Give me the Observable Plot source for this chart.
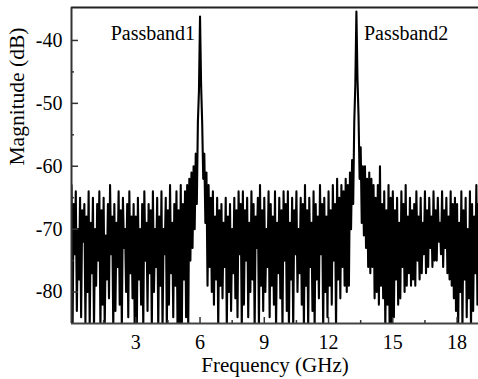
<!DOCTYPE html>
<html>
<head>
<meta charset="utf-8">
<script src="https://cdn.jsdelivr.net/npm/d3@7"></script>
<script src="https://cdn.jsdelivr.net/npm/@observablehq/plot@0.6"></script>
<style>
  html, body { margin: 0; padding: 0; background: #fff; }
  #chart svg { display: block; font-family: "Liberation Serif", "Times New Roman", serif !important; }
  #chart svg text { font-family: "Liberation Serif", "Times New Roman", serif !important; }
</style>
</head>
<body>
<div id="chart"></div>
<script>
const freqStart = 0;
const freqStep = 0.05;
const magnitude = [
  -63,-86,-66,-74,-64,-83,-70,-78,-65,-84,-67,-72,-66,-85,-68,-80,-64,-86,-69,-77,
  -65,-86,-70,-79,-66,-75,-64,-86,-67,-82,-65,-86,-71,-78,-66,-81,-63,-74,-68,-86,
  -66,-83,-69,-76,-64,-82,-67,-86,-65,-73,-70,-80,-66,-84,-64,-77,-68,-81,-66,-86,
  -68,-86,-65,-78,-70,-82,-66,-86,-64,-75,-69,-83,-66,-77,-67,-86,-64,-80,-70,-76,
  -65,-86,-68,-79,-64,-86,-70,-74,-65,-86,-67,-82,-63,-77,-69,-84,-66,-79,-64,-86,
  -67,-86,-63,-86,-66,-78,-64,-84,-63,-86,-62,-75,-61,-73,-60,-70,-58,-66,-53,-48,
  -36.2,-47,-53,-62,-58,-69,-61,-79,-63,-76,-65,-80,-64,-82,-68,-78,-65,-86,-67,-79,
  -66,-81,-69,-76,-65,-86,-68,-80,-66,-83,-70,-77,-65,-81,-67,-84,-64,-74,-66,-86,
  -64,-82,-67,-75,-65,-84,-69,-80,-64,-78,-66,-86,-68,-73,-65,-86,-63,-79,-67,-83,
  -65,-80,-70,-76,-64,-84,-66,-79,-68,-82,-64,-86,-69,-77,-65,-81,-67,-86,-64,-75,
  -66,-83,-64,-86,-69,-78,-65,-86,-67,-74,-64,-80,-70,-77,-65,-82,-66,-86,-63,-79,
  -67,-86,-65,-76,-69,-83,-64,-86,-66,-78,-68,-81,-63,-74,-66,-86,-65,-80,-68,-84,
  -64,-79,-67,-82,-63,-75,-66,-86,-62,-78,-65,-81,-63,-76,-64,-79,-62,-80,-63,-79,
  -61,-70,-59,-66,-53,-47,-35.4,-46,-52,-62,-57,-69,-60,-71,-60,-73,-62,-76,-61,-77,
  -62,-76,-63,-81,-65,-80,-63,-82,-60,-79,-66,-81,-64,-86,-67,-82,-63,-86,-65,-86,
  -64,-84,-67,-78,-65,-82,-69,-81,-64,-76,-66,-80,-63,-79,-68,-77,-65,-79,-67,-78,
  -66,-79,-64,-75,-68,-78,-65,-77,-69,-74,-64,-77,-67,-76,-65,-73,-68,-76,-64,-75,
  -67,-75,-65,-72,-69,-74,-64,-76,-67,-73,-65,-77,-68,-78,-64,-79,-66,-81,-65,-83,
  -66,-86,-69,-80,-64,-86,-67,-78,-65,-84,-70,-81,-64,-86,-66,-83,-68,-77,-63,-82,
  -66
];

// Axis ticks
const xTicks = [3, 6, 9, 12, 15, 18];
const xMinorTicks = [1.5, 4.5, 7.5, 10.5, 13.5, 16.5];
const yTicks = [-80, -70, -60, -50, -40];
const yMinorTicks = [-75, -65, -55, -45];

// Annotations
const leftLabel = {t: "Passband1", f: 5.77, m: -38.9};
const rightLabel = {t: "Passband2", f: 13.65, m: -38.9};

const xDomain = [0, 19];
const yDomain = [-85, -34.76];

const data = magnitude.map((m, i) => ({f: freqStart + i * freqStep, m}));

const W = 478, H = 379;
const mL = 71, mR = 0, mT = 7, mB = 56;
const fw = W - mL - mR, fh = H - mT - mB;
const FONT = "Liberation Serif, Times New Roman, serif";

const plot = Plot.plot({
  width: W,
  height: H,
  marginLeft: mL,
  marginRight: mR,
  marginTop: mT,
  marginBottom: mB,
  style: {fontFamily: FONT, background: "#fff", color: "#000"},
  x: {domain: xDomain},
  y: {domain: yDomain},
  marks: [
    Plot.line(data, {x: "f", y: "m", stroke: "#000", strokeWidth: 2.1, clip: true}),
    // axis frame lines
    Plot.ruleY([yDomain[0]], {stroke: "#444", strokeWidth: 2}),
    Plot.ruleY([yDomain[1]], {stroke: "#222", strokeWidth: 2}),
    Plot.ruleX([xDomain[0]], {stroke: "#333", strokeWidth: 2}),
    // inward ticks
    Plot.ruleX(xTicks, {stroke: "#333", strokeWidth: 1.5, insetTop: fh - 6}),
    Plot.ruleX(xMinorTicks, {stroke: "#333", strokeWidth: 1.5, insetTop: fh - 3}),
    Plot.ruleY(yTicks, {stroke: "#333", strokeWidth: 1.5, insetRight: fw - 7}),
    Plot.ruleY(yMinorTicks, {stroke: "#333", strokeWidth: 1.5, insetRight: fw - 3}),
    // tick labels
    Plot.axisX(xTicks, {tickSize: 0, tickPadding: 11, fontSize: 20, fontFamily: FONT, label: null, tickFormat: (d) => String(d)}),
    Plot.axisY(yTicks, {tickSize: 0, tickPadding: 9, fontSize: 20, fontFamily: FONT, label: null, tickFormat: (d) => String(d)}),
    // axis titles
    Plot.text(["Frequency (GHz)"], {frameAnchor: "bottom", lineAnchor: "middle", dy: 42, fontSize: 21, fontFamily: FONT, fill: "#000"}),
    Plot.text(["Magnitude (dB)"], {frameAnchor: "left", dx: -54, rotate: -90, fontSize: 21.5, fontFamily: FONT, fill: "#000"}),
    // annotations
    Plot.text([leftLabel], {x: "f", y: "m", text: "t", fontSize: 20, fontFamily: FONT, fill: "#000", textAnchor: "end"}),
    Plot.text([rightLabel], {x: "f", y: "m", text: "t", fontSize: 20, fontFamily: FONT, fill: "#000", textAnchor: "start"})
  ]
});

document.getElementById("chart").appendChild(plot);
</script>
</body>
</html>
